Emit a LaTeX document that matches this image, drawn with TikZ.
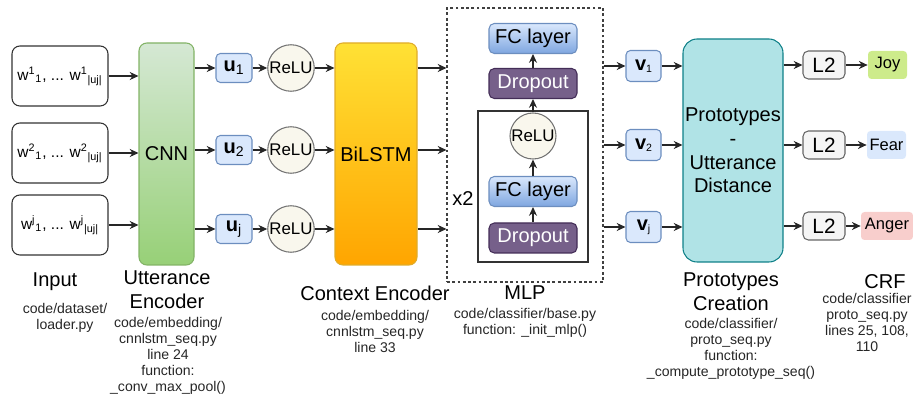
\documentclass[tikz,border=0pt]{standalone}
\usepackage{fontspec}
\setmainfont{Liberation Sans}
\usetikzlibrary{arrows.meta}

\definecolor{cnntop}{HTML}{D5E8D4}
\definecolor{cnnbot}{HTML}{97D077}
\definecolor{cnnline}{HTML}{82B366}
\definecolor{lstmtop}{HTML}{FFE135}
\definecolor{lstmbot}{HTML}{FFA500}
\definecolor{lstmline}{HTML}{E0AC2A}
\definecolor{vecfill}{HTML}{DAE8FC}
\definecolor{vecline}{HTML}{6C8EBF}
\definecolor{fcbot}{HTML}{7EA6E0}
\definecolor{relufill}{HTML}{F9F7ED}
\definecolor{dropfill}{HTML}{76608A}
\definecolor{dropline}{HTML}{432D57}
\definecolor{protofill}{HTML}{B0E3E6}
\definecolor{protoline}{HTML}{0E8088}
\definecolor{normfill}{HTML}{F5F5F5}
\definecolor{joyfill}{HTML}{CDEB8B}
\definecolor{angerfill}{HTML}{F8CECC}

\begin{document}
\begin{tikzpicture}[
    module/.style={rectangle, draw, rounded corners=4.5pt, inner sep=0pt, align=center, line width=0.6pt, font=\fontsize{11.4}{13.4}\selectfont},
    inbox/.style={module, draw=black!80, minimum width=1.92cm, minimum height=1.2cm, font=\fontsize{8.8}{10}\selectfont},
    vec/.style={module, rounded corners=2.5pt, fill=vecfill, draw=vecline, minimum width=0.72cm, minimum height=0.58cm},
    relu/.style={circle, draw=black!55, fill=relufill, line width=0.6pt, inner sep=0pt, minimum size=0.93cm, font=\fontsize{9.6}{10}\selectfont},
    fc/.style={module, rounded corners=3pt, top color=vecfill, bottom color=fcbot, draw=vecline, minimum width=1.76cm, minimum height=0.6cm},
    drop/.style={module, rounded corners=3pt, fill=dropfill, draw=dropline, text=white, minimum width=1.76cm, minimum height=0.6cm},
    norm/.style={module, rounded corners=3pt, fill=normfill, draw=black!60, minimum width=0.84cm, minimum height=0.56cm, font=\fontsize{11.8}{13}\selectfont},
    emo/.style={rectangle, rounded corners=2pt, inner sep=0pt, minimum height=0.56cm, font=\fontsize{9.4}{11}\selectfont},
    title/.style={align=center, inner sep=0pt, font=\fontsize{11.4}{13.6}\selectfont},
    src/.style={align=center, inner sep=0pt, font=\fontsize{8}{9.1}\selectfont, text=black!85},
    arrow/.style={-{Stealth[length=5pt, width=4.6pt]}, line width=0.6pt, black!85}
]
\useasboundingbox (0,0) rectangle (18.26,8.02);

% Input utterances
\node[inbox] (in1) at (1.2,6.50) {w\textsuperscript{1}\textsubscript{1}, ... w\textsuperscript{1}\textsubscript{|uj|}};
\node[inbox] (in2) at (1.2,4.96) {w\textsuperscript{2}\textsubscript{1}, ... w\textsuperscript{2}\textsubscript{|uj|}};
\node[inbox] (in3) at (1.2,3.52) {w\textsuperscript{j}\textsubscript{1}, ... w\textsuperscript{j}\textsubscript{|uj|}};

% Utterance encoder
\node[module, top color=cnntop, bottom color=cnnbot, draw=cnnline, minimum width=1.1cm, minimum height=4.44cm] (cnn) at (3.33,4.94) {CNN};
\node[vec] (u1) at (4.68,6.66) {\textbf{u}\textsubscript{1}};
\node[vec] (u2) at (4.68,5.02) {\textbf{u}\textsubscript{2}};
\node[vec] (uj) at (4.68,3.44) {\textbf{u}\textsubscript{j}};
\node[relu] (relu1) at (5.82,6.66) {ReLU};
\node[relu] (relu2) at (5.82,5.02) {ReLU};
\node[relu] (relu3) at (5.82,3.44) {ReLU};

% Context encoder
\node[module, top color=lstmtop, bottom color=lstmbot, draw=lstmline, minimum width=1.64cm, minimum height=4.44cm] (bilstm) at (7.52,4.94) {BiLSTM};

% MLP
\node[draw=black!75, dash pattern=on 1.6pt off 1.4pt, line width=0.6pt, minimum width=3.12cm, minimum height=5.48cm, inner sep=0pt] (mlp) at (10.5,5.12) {};
\node[draw=black!80, line width=0.6pt, minimum width=2.2cm, minimum height=3.02cm, inner sep=0pt] (layer) at (10.66,4.29) {};
\node[fc] (fcout) at (10.66,7.25) {FC layer};
\node[drop] (dropout) at (10.66,6.35) {Dropout};
\node[relu, minimum size=0.92cm] (mlprelu) at (10.66,5.30) {ReLU};
\node[fc] (fcin) at (10.66,4.19) {FC layer};
\node[drop] (dropin) at (10.66,3.26) {Dropout};
\node[font=\fontsize{11.4}{13}\selectfont] (rep) at (9.26,4.04) {x2};

% Utterance vectors
\node[vec, minimum width=0.7cm, minimum height=0.62cm] (v1) at (12.87,6.70) {\textbf{v}{\fontsize{6}{6}\selectfont\raisebox{-0.3ex}{1}}};
\node[vec, minimum width=0.7cm, minimum height=0.62cm] (v2) at (12.87,5.12) {\textbf{v}{\fontsize{6}{6}\selectfont\raisebox{-0.3ex}{2}}};
\node[vec, minimum width=0.7cm, minimum height=0.62cm] (vj) at (12.87,3.48) {\textbf{v}{\fontsize{6}{6}\selectfont\raisebox{-0.3ex}{j}}};

% Prototypes
\node[module, rounded corners=8pt, fill=protofill, draw=protoline, minimum width=2.0cm, minimum height=4.46cm] (proto) at (14.66,5.01) {Prototypes\\-\\Utterance\\Distance};

% CRF
\node[norm] (l2a) at (16.48,6.72) {L2};
\node[norm] (l2b) at (16.48,5.12) {L2};
\node[norm] (l2c) at (16.48,3.50) {L2};
\node[emo, fill=joyfill, minimum width=0.78cm] (joy) at (17.75,6.72) {Joy};
\node[emo, fill=vecfill, minimum width=0.78cm] (fear) at (17.73,5.12) {Fear};
\node[emo, fill=angerfill, minimum width=1.04cm] (anger) at (17.74,3.50) {Anger};

% Arrows
\draw[arrow] (in1) -- (in1 -| cnn.west);
\draw[arrow] (in2) -- (in2 -| cnn.west);
\draw[arrow] (in3) -- (in3 -| cnn.west);
\draw[arrow] (cnn.east |- u1) -- (u1);
\draw[arrow] (cnn.east |- u2) -- (u2);
\draw[arrow] (cnn.east |- uj) -- (uj);
\draw[arrow] (u1) -- (relu1);
\draw[arrow] (u2) -- (relu2);
\draw[arrow] (uj) -- (relu3);
\draw[arrow] (relu1) -- (relu1 -| bilstm.west);
\draw[arrow] (relu2) -- (relu2 -| bilstm.west);
\draw[arrow] (relu3) -- (relu3 -| bilstm.west);
\draw[arrow] (bilstm.east |- relu1) -- (mlp.west |- relu1);
\draw[arrow] (bilstm.east |- relu2) -- (mlp.west |- relu2);
\draw[arrow] (bilstm.east |- relu3) -- (mlp.west |- relu3);
\draw[arrow] (dropin) -- (fcin);
\draw[arrow] (fcin) -- (mlprelu);
\draw[arrow] (mlprelu) -- (dropout);
\draw[arrow] (dropout) -- (fcout);
\draw[arrow] (mlp.east |- v1) -- (v1);
\draw[arrow] (mlp.east |- v2) -- (v2);
\draw[arrow] (mlp.east |- vj) -- (vj);
\draw[arrow] (v1) -- (v1 -| proto.west);
\draw[arrow] (v2) -- (v2 -| proto.west);
\draw[arrow] (vj) -- (vj -| proto.west);
\draw[arrow] (proto.east |- l2a) -- (l2a);
\draw[arrow] (proto.east |- l2b) -- (l2b);
\draw[arrow] (proto.east |- l2c) -- (l2c);
\draw[arrow] (l2a) -- (joy);
\draw[arrow] (l2b) -- (fear);
\draw[arrow] (l2c) -- (anger);

% Stage names and sources
\node[title] (tin) at (1.10,2.38) {Input};
\node[src] (sin) at (1.30,1.66) {code/dataset/\\loader.py};
\node[title] (tcnn) at (3.34,2.22) {Utterance\\Encoder};
\node[src] (scnn) at (3.36,0.90) {code/embedding/\\cnnlstm\_seq.py\\line 24\\function:\\\_conv\_max\_pool()};
\node[title] (tlstm) at (7.50,2.16) {Context Encoder};
\node[src] (slstm) at (7.50,1.40) {code/embedding/\\cnnlstm\_seq.py\\line 33};
\node[title] (tmlp) at (10.50,2.16) {MLP};
\node[src] (smlp) at (10.50,1.56) {code/classifier/base.py\\function: \_init\_mlp()};
\node[title] (tproto) at (14.62,2.18) {Prototypes\\Creation};
\node[src] (sproto) at (14.62,1.05) {code/classifier/\\proto\_seq.py\\function:\\\_compute\_prototype\_seq()};
\node[title] (tcrf) at (17.70,2.38) {CRF};
\node[src] (scrf) at (17.34,1.58) {code/classifier\\proto\_seq.py\\lines 25, 108,\\110};
\end{tikzpicture}
\end{document}
